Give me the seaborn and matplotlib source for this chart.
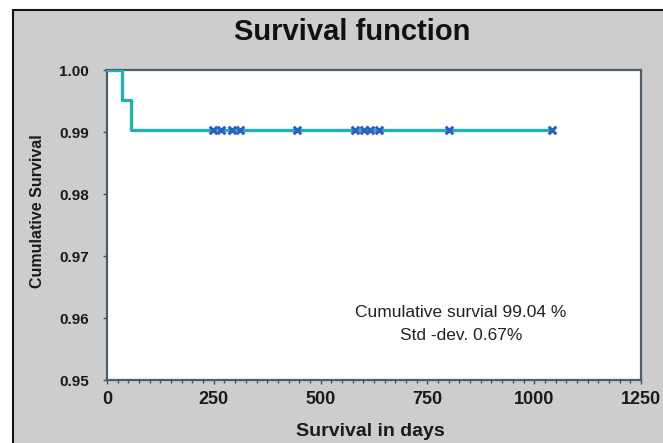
import matplotlib
matplotlib.use("Agg")
import matplotlib.pyplot as plt
import seaborn as sns
import pandas as pd
from matplotlib.lines import Line2D
from matplotlib.ticker import MultipleLocator

# Data
step_days = [0, 35, 56, 1045]
step_surv = [1.0, 0.9952, 0.9904, 0.9904]
censor_days = [248, 267, 293, 311, 445, 581, 602, 616, 637, 801, 1042]
censor_surv = [0.9904] * len(censor_days)
x_ticks = [0, 250, 500, 750, 1000, 1250]
y_ticks = [0.95, 0.96, 0.97, 0.98, 0.99, 1.00]
title = "Survival function"
xlabel = "Survival in days"
ylabel = "Cumulative Survival"
note1 = "Cumulative survial 99.04 %"
note2 = "Std -dev. 0.67%"

sns.set_theme(style="white")
plt.rcParams["font.family"] = ["Liberation Sans", "DejaVu Sans"]

W, H = 663, 443
fig = plt.figure(figsize=(W / 100, H / 100), dpi=100, facecolor="white")
# grey panel inside a black frame (left and top edges)
bg = plt.Rectangle((13 / W, 0), 1 - 13 / W, 1 - 10 / H,
                   transform=fig.transFigure, facecolor="#cdcdcd",
                   edgecolor="none", zorder=-10)
fig.add_artist(bg)
fig.add_artist(Line2D([13 / W, 13 / W], [0, 1 - 10 / H], color="#111111", lw=1.5,
                      transform=fig.transFigure, zorder=-5))
fig.add_artist(Line2D([13 / W, 1], [1 - 10 / H, 1 - 10 / H], color="#111111", lw=1.5,
                      transform=fig.transFigure, zorder=-5))

ax = fig.add_axes([107 / W, 1 - 380 / H, (641 - 107) / W, (380 - 70) / H])
ax.set_zorder(5)
ax.set_facecolor("white")

df_line = pd.DataFrame({"days": step_days, "surv": step_surv})
df_cens = pd.DataFrame({"days": censor_days, "surv": censor_surv})

sns.lineplot(data=df_line, x="days", y="surv", ax=ax, drawstyle="steps-post",
             color="#22b2b4", lw=2.4, zorder=3)
sns.scatterplot(data=df_cens, x="days", y="surv", ax=ax, marker="x", s=30,
                color="#2f5fc4", linewidth=2.2, zorder=4)

ax.set_xlim(0, 1250)
ax.set_ylim(0.95, 1.0)
ax.set_xticks(x_ticks)
ax.set_yticks(y_ticks)
ax.set_xticklabels([str(t) for t in x_ticks])
ax.set_yticklabels([f"{t:.2f}" for t in y_ticks])
ax.xaxis.set_minor_locator(MultipleLocator(25))
ax.tick_params(axis="both", which="major", direction="out", length=3, width=1,
               color="#3d5060", labelcolor="#1a1a1a")
ax.tick_params(axis="x", which="major", labelsize=13, pad=5, bottom=True)
ax.tick_params(axis="y", which="major", labelsize=11, pad=10, left=True)
ax.tick_params(axis="x", which="minor", direction="out", length=2, width=1,
               color="#3d5060", bottom=True)
for lab in ax.get_xticklabels() + ax.get_yticklabels():
    lab.set_fontweight("bold")

for side in ["left", "bottom", "top", "right"]:
    ax.spines[side].set_visible(True)
    ax.spines[side].set_color("#4a5e6c")
    ax.spines[side].set_linewidth(1.6)

ax.set_xlabel(xlabel, fontsize=14, fontweight="bold", color="#1a1a1a")
ax.set_ylabel(ylabel, fontsize=11.5, fontweight="bold", color="#1a1a1a")
ax.xaxis.set_label_coords(0.4925, -0.14)
ax.yaxis.set_label_coords(-0.116, 0.545)

fig.text(352 / W, 1 - 32 / H, title, ha="center", va="center", fontsize=21,
         fontweight="bold", color="#111111")

ax.text(0.663, 0.219, note1, transform=ax.transAxes, ha="center", va="center",
        fontsize=12.5, color="#222222")
ax.text(0.663, 0.145, note2, transform=ax.transAxes, ha="center", va="center",
        fontsize=12.5, color="#222222")

fig.savefig("out.png", dpi=100, facecolor=fig.get_facecolor())
